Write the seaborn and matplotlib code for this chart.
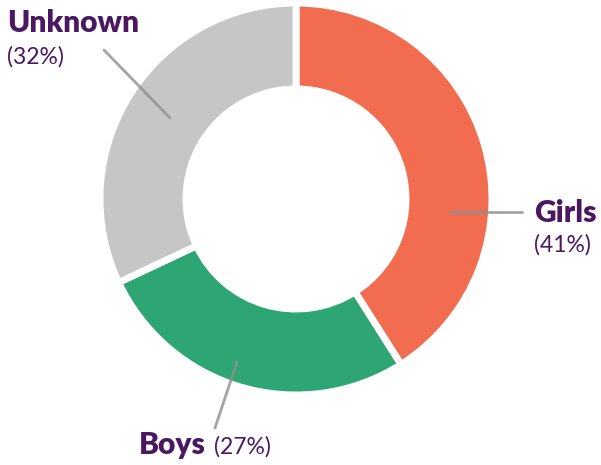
import numpy as np
import pandas as pd
import matplotlib
matplotlib.use("Agg")
import matplotlib.pyplot as plt
import seaborn as sns

labels = ["Girls", "Boys", "Unknown"]
shares = [41, 27, 32]
colors = ["#F26D50", "#2DA673", "#C6C6C6"]

sns.set_theme(style="white")
plt.rcParams['font.family'] = ['Lato', 'DejaVu Sans']

fig = plt.figure(figsize=(6.01, 4.65), dpi=100)
ax = fig.add_axes([0, 0, 1, 1])

ax.pie(shares, colors=colors, startangle=90, counterclock=False,
       center=(296, 266), radius=196,
       wedgeprops=dict(width=86, edgecolor="white", linewidth=5))

# pie resets the limits, so set them afterwards
ax.set_xlim(0, 601)
ax.set_ylim(0, 465)
ax.set_aspect("equal")
ax.axis("off")

purple = "#4A1760"
line_col = "#8E8E8E"

# leader lines
ax.plot([104, 170], [415, 347], color=line_col, lw=2, alpha=0.8, solid_capstyle="round")
ax.plot([450, 522], [253, 253], color=line_col, lw=2, alpha=0.8, solid_capstyle="round")
ax.plot([237, 215], [103, 37], color=line_col, lw=2, alpha=0.8, solid_capstyle="round")

# labels
ax.text(7, 433, "Unknown", fontsize=21.5, fontweight="heavy", color=purple, va="baseline")
ax.text(7, 401, "(32%)", fontsize=16.5, color=purple, va="baseline")
ax.text(534, 243, "Girls", fontsize=21.5, fontweight="heavy", color=purple, va="baseline")
ax.text(534, 213, "(41%)", fontsize=16.5, color=purple, va="baseline")
ax.text(139, 11, "Boys", fontsize=21.5, fontweight="heavy", color=purple, va="baseline")
ax.text(214, 11, "(27%)", fontsize=16.5, color=purple, va="baseline")

fig.savefig("out.png", dpi=100)
